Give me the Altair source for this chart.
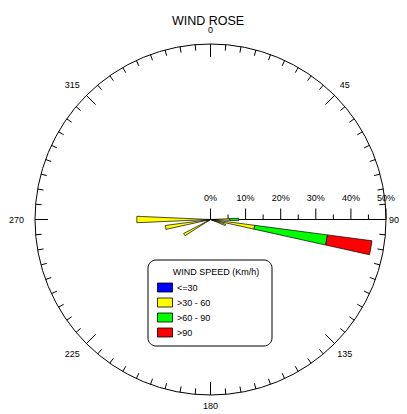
import altair as alt
import pandas as pd
import numpy as np

# ---- data ----
directions = [90, 100, 110, 240, 260, 270]
speed_le30 = [1.0, 1.0, 1.0, 1.0, 1.0, 1.0]
speed_30_60 = [4.5, 11.7, 3.5, 7.6, 12.0, 20.0]
speed_60_90 = [2.5, 20.9, 0.0, 0.0, 0.0, 0.0]
speed_gt90 = [0.0, 12.8, 0.0, 0.0, 0.0, 0.0]
categories = ["<=30", ">30 - 60", ">60 - 90", ">90"]
colors = ["#0000ff", "#ffff00", "#00ff00", "#ff0000"]
compass_angles = [0, 45, 90, 135, 180, 225, 270, 315]
compass_labels = ["0", "45", "90", "135", "180", "225", "270", "315"]
radial_ticks = [0, 5, 10, 15, 20, 25, 30, 35, 40, 45, 50]
radial_label_values = [0, 10, 20, 30, 40, 50]
radial_labels = ["0%", "10%", "20%", "30%", "40%", "50%"]
circle_tick_angles = list(range(0, 360, 5))

FONT = "Liberation Sans"
W, H = 391, 402
CX, CY = 202.5, 211.5
R = 175.5
RMAX = 50.0
HALF = 2.5  # half sector width in degrees

# ---- tables ----
rows = []
for d, a, b, c, e in zip(directions, speed_le30, speed_30_60, speed_60_90, speed_gt90):
    start = 0.0
    for cat, v in zip(categories, [a, b, c, e]):
        if v > 0:
            rows.append({"dir": d, "cat": cat, "t0": d - HALF, "t1": d + HALF,
                         "r0": start, "r1": start + v})
            start += v
bars_df = pd.DataFrame(rows)

circle_df = pd.DataFrame({"t0": [0], "t1": [360], "r": [RMAX]})
ctick_df = pd.DataFrame({"a": circle_tick_angles})
rtick_df = pd.DataFrame({"v": radial_ticks})
rlab_df = pd.DataFrame({"v": radial_label_values, "lab": radial_labels})
comp_df = pd.DataFrame({"a": compass_angles, "lab": compass_labels})
axis_df = pd.DataFrame({"x0": [0], "x1": [RMAX]})

px = RMAX / R  # data units per pixel

tscale = alt.Scale(type="linear", domain=[0, 360], range=[0, 2 * np.pi], zero=False, nice=False)
rscale = alt.Scale(type="linear", domain=[0, RMAX], range=[0, R], zero=True, nice=False)
xscale = alt.Scale(domain=[-RMAX, RMAX], range=[CX - R, CX + R], zero=False, nice=False)
yscale = alt.Scale(domain=[-RMAX, RMAX], range=[CY + R, CY - R], zero=False, nice=False)

# outer circle
circle = alt.Chart(circle_df).mark_arc(fillOpacity=0, stroke="black", strokeWidth=1).encode(
    theta=alt.Theta("t0:Q", scale=tscale, stack=False),
    theta2="t1:Q",
    radius=alt.Radius("r:Q", scale=rscale, stack=False),
    x=alt.value(CX), y=alt.value(CY),
)

# ticks on circle
cticks = alt.Chart(ctick_df).transform_calculate(
    L=f"(datum.a % 45 == 0 ? 13 : 6) * {px}",
).transform_calculate(
    xa=f"{RMAX} * sin(datum.a * PI / 180)",
    ya=f"{RMAX} * cos(datum.a * PI / 180)",
    xb=f"({RMAX} - datum.L) * sin(datum.a * PI / 180)",
    yb=f"({RMAX} - datum.L) * cos(datum.a * PI / 180)",
).mark_rule(color="black", strokeWidth=1).encode(
    x=alt.X("xa:Q", scale=xscale, axis=None),
    y=alt.Y("ya:Q", scale=yscale, axis=None),
    x2="xb:Q", y2="yb:Q",
)

# compass labels (the 90 label is kept inside the drawing area)
comp = alt.Chart(comp_df).transform_calculate(
    s="sin(datum.a * PI / 180)",
    c="cos(datum.a * PI / 180)",
    rr=f"(datum.a == 180 ? 186.5 : datum.a == 90 ? 183.5 : 190) * {px}",
).transform_calculate(
    xl=f"datum.rr * datum.s + (datum.s < -0.1 ? {-4 * px} : 0)",
    yl="datum.rr * datum.c",
).mark_text(font=FONT, fontSize=9, color="black", baseline="middle", align="center").encode(
    x=alt.X("xl:Q", scale=xscale, axis=None),
    y=alt.Y("yl:Q", scale=yscale, axis=None),
    text="lab:N",
)

# radial axis line
raxis = alt.Chart(axis_df).transform_calculate(y0="0").mark_rule(color="black", strokeWidth=1).encode(
    x=alt.X("x0:Q", scale=xscale, axis=None),
    x2="x1:Q",
    y=alt.Y("y0:Q", scale=yscale, axis=None),
)

rticks = alt.Chart(rtick_df).transform_calculate(
    y0="0",
    y1=f"(datum.v % 10 == 0 ? 11 : 5) * {px}",
).mark_rule(color="black", strokeWidth=1).encode(
    x=alt.X("v:Q", scale=xscale, axis=None),
    y=alt.Y("y0:Q", scale=yscale, axis=None),
    y2="y1:Q",
)

rlabs = alt.Chart(rlab_df).transform_calculate(
    yl=f"22 * {px}",
).mark_text(font=FONT, fontSize=9, color="black", baseline="middle", align="center").encode(
    x=alt.X("v:Q", scale=xscale, axis=None),
    y=alt.Y("yl:Q", scale=yscale, axis=None),
    text="lab:N",
)

# wind bars
bars = alt.Chart(bars_df).mark_arc(stroke="black", strokeWidth=0.7).encode(
    theta=alt.Theta("t0:Q", scale=tscale, stack=False),
    theta2="t1:Q",
    radius=alt.Radius("r1:Q", scale=rscale, stack=False),
    radius2="r0:Q",
    x=alt.value(CX), y=alt.value(CY),
    color=alt.Color(
        "cat:N",
        scale=alt.Scale(domain=categories, range=colors),
        legend=alt.Legend(
            title=None, orient="none", legendX=149, legendY=271.5, padding=0,
            symbolType="M-1,-0.6H1V0.6H-1Z", symbolSize=225,
            symbolStrokeColor="black", symbolStrokeWidth=0.8, symbolOpacity=1,
            labelFont=FONT, labelFontSize=9, labelOffset=4, labelColor="black",
            rowPadding=0,
        ),
    ),
)

# legend frame + title
frame = alt.Chart(pd.DataFrame({"k": [0]})).mark_rect(
    fill="white", stroke="black", strokeWidth=1, cornerRadius=8
).encode(x=alt.value(140), x2=alt.value(264), y=alt.value(252), y2=alt.value(338))

leg_title = alt.Chart(pd.DataFrame({"t": ["WIND SPEED (Km/h)"]})).mark_text(
    font=FONT, fontSize=9, color="black", align="center", baseline="middle"
).encode(x=alt.value(208), y=alt.value(263.5), text="t:N")

title = alt.Chart(pd.DataFrame({"t": ["WIND ROSE"]})).mark_text(
    font=FONT, fontSize=12.5, color="black", align="center", baseline="middle"
).encode(x=alt.value(200), y=alt.value(12.5), text="t:N")

chart = alt.layer(
    circle, cticks, comp, raxis, rticks, rlabs, bars, frame, leg_title, title
).properties(
    width=W, height=H, autosize=alt.AutoSizeParams(type="none"), padding=0,
    background="white",
).configure_view(strokeWidth=0)

chart.save("out.html", embed_options={"renderer": "svg", "actions": False})
